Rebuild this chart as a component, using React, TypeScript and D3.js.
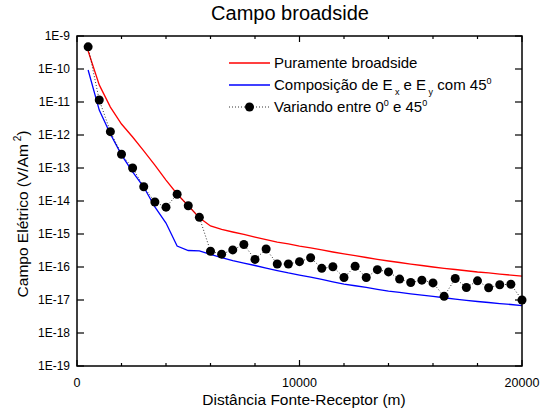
import React from 'react';
import * as d3 from 'd3';

// Source-receiver distance (m) at which each field value was computed
const distances = [
  500, 1000, 1500, 2000, 2500, 3000, 3500, 4000, 4500, 5000,
  5500, 6000, 6500, 7000, 7500, 8000, 8500, 9000, 9500, 10000,
  10500, 11000, 11500, 12000, 12500, 13000, 13500, 14000, 14500, 15000,
  15500, 16000, 16500, 17000, 17500, 18000, 18500, 19000, 19500, 20000,
];

// Purely broadside field (V/Am²)
const broadside = [
  3.5e-10, 3.3e-11, 7.0e-12, 2.15e-12, 8.7e-13, 3.3e-13, 1.23e-13, 4.3e-14, 1.63e-14, 7.2e-15,
  3.1e-15, 1.75e-15, 1.37e-15, 1.15e-15, 9.7e-16, 8.1e-16, 6.8e-16, 5.7e-16, 5.0e-16, 4.3e-16,
  3.8e-16, 3.3e-16, 2.85e-16, 2.5e-16, 2.2e-16, 1.94e-16, 1.71e-16, 1.52e-16, 1.37e-16, 1.23e-16,
  1.11e-16, 1.0e-16, 9.1e-17, 8.4e-17, 7.7e-17, 7.05e-17, 6.6e-17, 6.1e-17, 5.7e-17, 5.3e-17,
];

// Ex and Ey composed at 45°
const composed45 = [
  9.3e-11, 5.7e-12, 1.07e-12, 2.5e-13, 7.6e-14, 2.65e-14, 6.6e-15, 2.15e-15, 4.3e-16, 3.16e-16,
  3.1e-16, 2.4e-16, 1.94e-16, 1.57e-16, 1.32e-16, 1.11e-16, 9.3e-17, 7.8e-17, 6.6e-17, 5.7e-17,
  4.9e-17, 4.2e-17, 3.56e-17, 3.05e-17, 2.7e-17, 2.4e-17, 2.1e-17, 1.87e-17, 1.7e-17, 1.54e-17,
  1.41e-17, 1.28e-17, 1.17e-17, 1.07e-17, 9.8e-18, 9.0e-18, 8.4e-18, 7.8e-18, 7.3e-18, 6.8e-18,
];

// Angle varying between 0° and 45°
const varying = [
  4.7e-10, 1.15e-11, 1.26e-12, 2.6e-13, 1.0e-13, 2.7e-14, 9.3e-15, 6.5e-15, 1.6e-14, 7.2e-15,
  3.2e-15, 3.0e-16, 2.45e-16, 3.3e-16, 4.8e-16, 1.7e-16, 3.5e-16, 1.23e-16, 1.23e-16, 1.45e-16,
  1.9e-16, 9.1e-17, 1.02e-16, 4.8e-17, 1.05e-16, 4.8e-17, 8.3e-17, 7.1e-17, 4.3e-17, 3.4e-17,
  4.0e-17, 3.3e-17, 1.29e-17, 4.5e-17, 2.4e-17, 3.8e-17, 2.35e-17, 2.9e-17, 3.0e-17, 1.0e-17,
];

const xTickValues = [0, 2000, 4000, 6000, 8000, 10000, 12000, 14000, 16000, 18000, 20000];
const xTickLabels = [0, 10000, 20000];
const yTickExponents = [-9, -10, -11, -12, -13, -14, -15, -16, -17, -18, -19];

const W = 548;
const H = 417;
const left = 77;
const right = 522;
const top = 36;
const bottom = 366;
const FONT = "'Liberation Sans', Arial, sans-serif";

export default function App() {
  const x = d3.scaleLinear().domain([0, 20000]).range([left, right]);
  const y = d3.scaleLog().domain([1e-19, 1e-9]).range([bottom, top]);

  const line = d3
    .line<[number, number]>()
    .x((d) => x(d[0]))
    .y((d) => y(d[1]));

  const redPts = distances.map((d, i) => [d, broadside[i]] as [number, number]);
  const bluePts = distances.map((d, i) => [d, composed45[i]] as [number, number]);
  const blackPts = distances.map((d, i) => [d, varying[i]] as [number, number]);

  const legX1 = 229;
  const legX2 = 270;
  const legText = 274;
  const legY = [63, 85, 107];

  return (
    <svg
      width={W}
      height={H}
      style={{ position: 'absolute', left: 0, top: 0, background: '#fff' }}
      fontFamily={FONT}
    >
      <rect x={0} y={0} width={W} height={H} fill="#fff" />
      <text x={290} y={20} fontSize={20} textAnchor="middle" fill="#000">
        Campo broadside
      </text>

      {/* data */}
      <path d={line(redPts) || ''} fill="none" stroke="#ff0000" strokeWidth={1.3} />
      <path d={line(bluePts) || ''} fill="none" stroke="#0000ff" strokeWidth={1.3} />
      <path
        d={line(blackPts) || ''}
        fill="none"
        stroke="#000"
        strokeWidth={0.8}
        strokeDasharray="1,2"
      />
      {blackPts.map((p, i) => (
        <circle key={i} cx={x(p[0])} cy={y(p[1])} r={4.5} fill="#000" />
      ))}

      {/* frame */}
      <rect
        x={left}
        y={top}
        width={right - left}
        height={bottom - top}
        fill="none"
        stroke="#000"
        strokeWidth={1.5}
      />

      {/* x ticks, bottom and top, pointing inward */}
      {xTickValues.map((v) => {
        const len = v % 10000 === 0 ? 6 : 3;
        return (
          <g key={v}>
            <line x1={x(v)} x2={x(v)} y1={bottom} y2={bottom - len} stroke="#000" strokeWidth={1.2} />
            <line x1={x(v)} x2={x(v)} y1={top} y2={top + len} stroke="#000" strokeWidth={1.2} />
          </g>
        );
      })}
      {xTickLabels.map((v) => (
        <text key={v} x={x(v)} y={387} fontSize={12.5} textAnchor="middle" fill="#000">
          {v}
        </text>
      ))}

      {/* y ticks, left and right, pointing inward */}
      {yTickExponents.map((e) => {
        const yy = y(Math.pow(10, e));
        return (
          <g key={e}>
            <line x1={left} x2={left + 7} y1={yy} y2={yy} stroke="#000" strokeWidth={1.2} />
            <line x1={right} x2={right - 7} y1={yy} y2={yy} stroke="#000" strokeWidth={1.2} />
            <text x={70} y={yy + 4} fontSize={12} textAnchor="end" fill="#000">
              {`1E${e}`}
            </text>
          </g>
        );
      })}

      {/* axis titles */}
      <text x={304} y={405} fontSize={15.5} textAnchor="middle" fill="#000">
        Distância Fonte-Receptor (m)
      </text>
      <text
        transform="translate(28,214) rotate(-90)"
        fontSize={15.5}
        textAnchor="middle"
        fill="#000"
      >
        Campo Elétrico (V/Am
        <tspan fontSize={10} dy={-7}> 2</tspan>
        <tspan dy={7}>)</tspan>
      </text>

      {/* legend */}
      <line x1={legX1} x2={legX2} y1={legY[0]} y2={legY[0]} stroke="#ff0000" strokeWidth={1.3} />
      <text x={legText} y={legY[0] + 5} fontSize={15} fill="#000">
        Puramente broadside
      </text>
      <line x1={legX1} x2={legX2} y1={legY[1]} y2={legY[1]} stroke="#0000ff" strokeWidth={1.3} />
      <text x={legText} y={legY[1] + 5} fontSize={15} fill="#000">
        Composição de E
        <tspan fontSize={9} dy={5}> x</tspan>
        <tspan dy={-5}> e E</tspan>
        <tspan fontSize={9} dy={5}> y</tspan>
        <tspan dy={-5}> com 45</tspan>
        <tspan fontSize={9} dy={-6}>0</tspan>
      </text>
      <line
        x1={legX1}
        x2={legX2}
        y1={legY[2]}
        y2={legY[2]}
        stroke="#000"
        strokeWidth={0.8}
        strokeDasharray="1,2"
      />
      <circle cx={(legX1 + legX2) / 2} cy={legY[2]} r={4.5} fill="#000" />
      <text x={legText} y={legY[2] + 5} fontSize={15} fill="#000">
        Variando entre 0
        <tspan fontSize={9} dy={-6}>0</tspan>
        <tspan dy={6}> e 45</tspan>
        <tspan fontSize={9} dy={-6}>0</tspan>
      </text>
    </svg>
  );
}
